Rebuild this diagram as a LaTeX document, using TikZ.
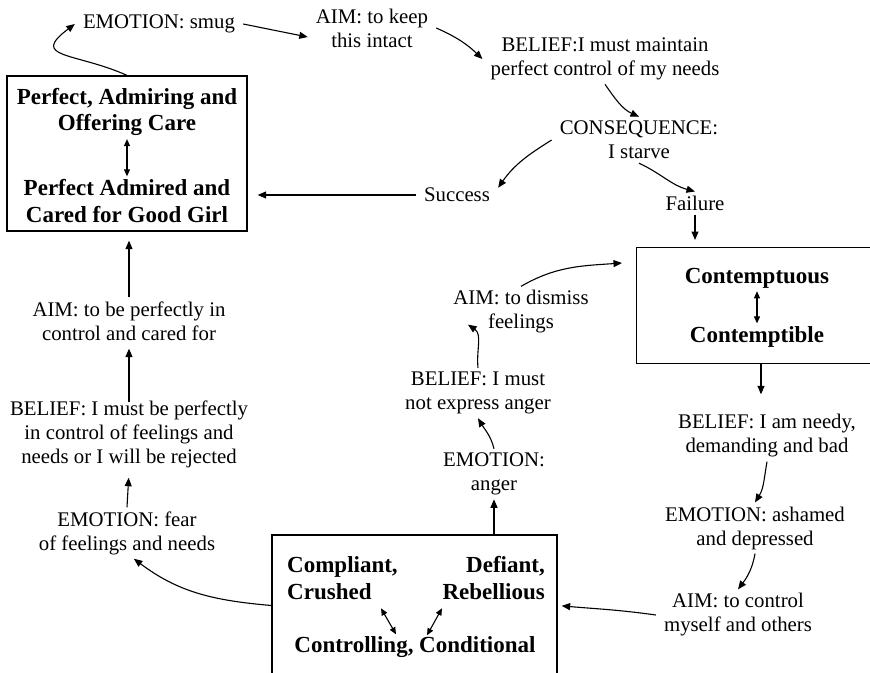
\documentclass[tikz,border=0pt]{standalone}
\usepackage{fontspec}
\setmainfont{Liberation Serif}
\usetikzlibrary{arrows.meta,positioning,calc}

\tikzset{
  txt/.style={align=center, inner xsep=8pt, inner ysep=4pt, font=\fontsize{20.8}{24}\selectfont},
  bold/.style={align=center, inner sep=3pt, font=\fontsize{23}{26.5}\selectfont\bfseries},
  frame/.style={draw, line width=1.3pt, inner sep=0pt},
  arr/.style={-{Triangle[length=8.5pt,width=7pt]}, line width=1.1pt},
  darr/.style={{Triangle[length=7pt,width=6pt]}-{Triangle[length=7pt,width=6pt]}, line width=1.1pt},
}

\begin{document}
\begin{tikzpicture}[x=1pt,y=1pt]
\useasboundingbox (0,0) rectangle (870,-672);

% the three states
\node[frame, minimum width=240, minimum height=155] (girlbox) at (127,-153.5) {};
\node[frame, minimum width=280, minimum height=116, anchor=north west] (cbox) at (636,-247) {};
\node[frame, minimum width=285, minimum height=141] (obox) at (414.5,-605.5) {};

\node[bold] (pa) at (127,-112) {Perfect, Admiring and\\Offering Care};
\node[bold] (pg) at (127,-201) {Perfect Admired and\\Cared for Good Girl};
\draw[darr] (pa) -- (pg);

\node[bold] (ctu) at (757,-278) {Contemptuous};
\node[bold] (cti) at (757,-337) {Contemptible};
\draw[darr] (ctu) -- (cti);

\node[bold, align=left, anchor=west] (comp) at (284,-578) {Compliant,\\Crushed};
\node[bold, align=right, anchor=east] (defi) at (548,-578) {Defiant,\\Rebellious};
\node[bold] (ctrl) at (415,-647) {Controlling, Conditional};
\draw[darr] ($(ctrl.north)+(-34,25)$) -- ($(ctrl.north)+(-19,-1)$);
\draw[darr] ($(ctrl.north)+(27,25)$) -- ($(ctrl.north)+(12,-2)$);

% top loop
\node[txt] (smug) at (159,-24) {EMOTION: smug};
\node[txt] (keep) at (372,-28) {AIM: to keep\\this intact};
\node[txt] (mm) at (605,-59) {BELIEF:I must maintain\\perfect control of my needs};
\node[txt] (cons) at (639,-140) {CONSEQUENCE:\\I starve};
\node[txt] (success) at (457,-195) {Success};
\node[txt] (failure) at (695,-203) {Failure};

% right side
\node[txt] (needy) at (767,-436) {BELIEF: I am needy,\\demanding and bad};
\node[txt] (ashamed) at (755,-528) {EMOTION: ashamed\\and depressed};
\node[txt] (ctrlaim) at (738,-615) {AIM: to control\\myself and others};

% middle
\node[txt] (anger) at (494,-474) {EMOTION:\\anger};
\node[txt] (mustnot) at (478,-393) {BELIEF: I must\\not express anger};
\node[txt] (dismiss) at (521,-312) {AIM: to dismiss\\feelings};

% left side
\node[txt] (fear) at (127,-533) {EMOTION: fear\\of feelings and needs};
\node[txt] (bemust) at (129,-434) {BELIEF: I must be perfectly\\in control of feelings and\\needs or I will be rejected};
\node[txt] (paim) at (129,-321) {AIM: to be perfectly in\\control and cared for};

% connectors
\draw[arr] (girlbox.north) to[out=156,in=-143,looseness=2] (smug.west);
\draw[arr] (smug.east) -- (keep.-172);
\draw[arr] (keep.east) to[bend left=10] (mm.west);
\draw[arr] (mm.south) to[out=-55,in=155] (cons.north);
\draw[arr] (cons.west) to[out=-148,in=55] (success.10);
\draw[arr] (cons.south) to[out=-25,in=165] (failure.north);
\draw[arr, shorten >=7pt] (failure.south) -- (failure.south |- cbox.north);
\draw[arr, shorten >=16pt] ($(ctu |- cbox.south)+(4,0)$) -- ($(ctu |- needy.north)+(4,0)$);
\draw[arr] (needy.south) to[out=-100,in=58] (ashamed.north);
\draw[arr] (ashamed.south) to[out=-100,in=53] (ctrlaim.north);
\draw[arr, shorten >=4pt] (ctrlaim.west) to[out=172,in=-5] (obox.east);
\draw[arr] (obox.west) to[out=175,in=-37] (fear.-75);
\draw[arr] (anger.south |- obox.north) -- (anger.south);
\draw[arr] (anger.north) to[out=104,in=-59] (mustnot.south);
\draw[arr] (mustnot.north) to[out=96,in=-34] ($(dismiss.south)+(-53,13)$);
\draw[arr] (dismiss.north) to[out=30,in=-176] ($(cbox.north west)+(-14,-16)$);
\draw[arr, shorten >=10pt] (success.west) -- (success.west -| girlbox.east);
\draw[arr, shorten >=9pt] (paim.north) -- (paim.north |- girlbox.south);
\draw[arr, shorten <=-6pt, shorten >=4pt] (bemust.north) -- (paim.south);
\draw[arr, shorten >=6pt] (fear.north) -- (bemust.south);
\end{tikzpicture}
\end{document}
